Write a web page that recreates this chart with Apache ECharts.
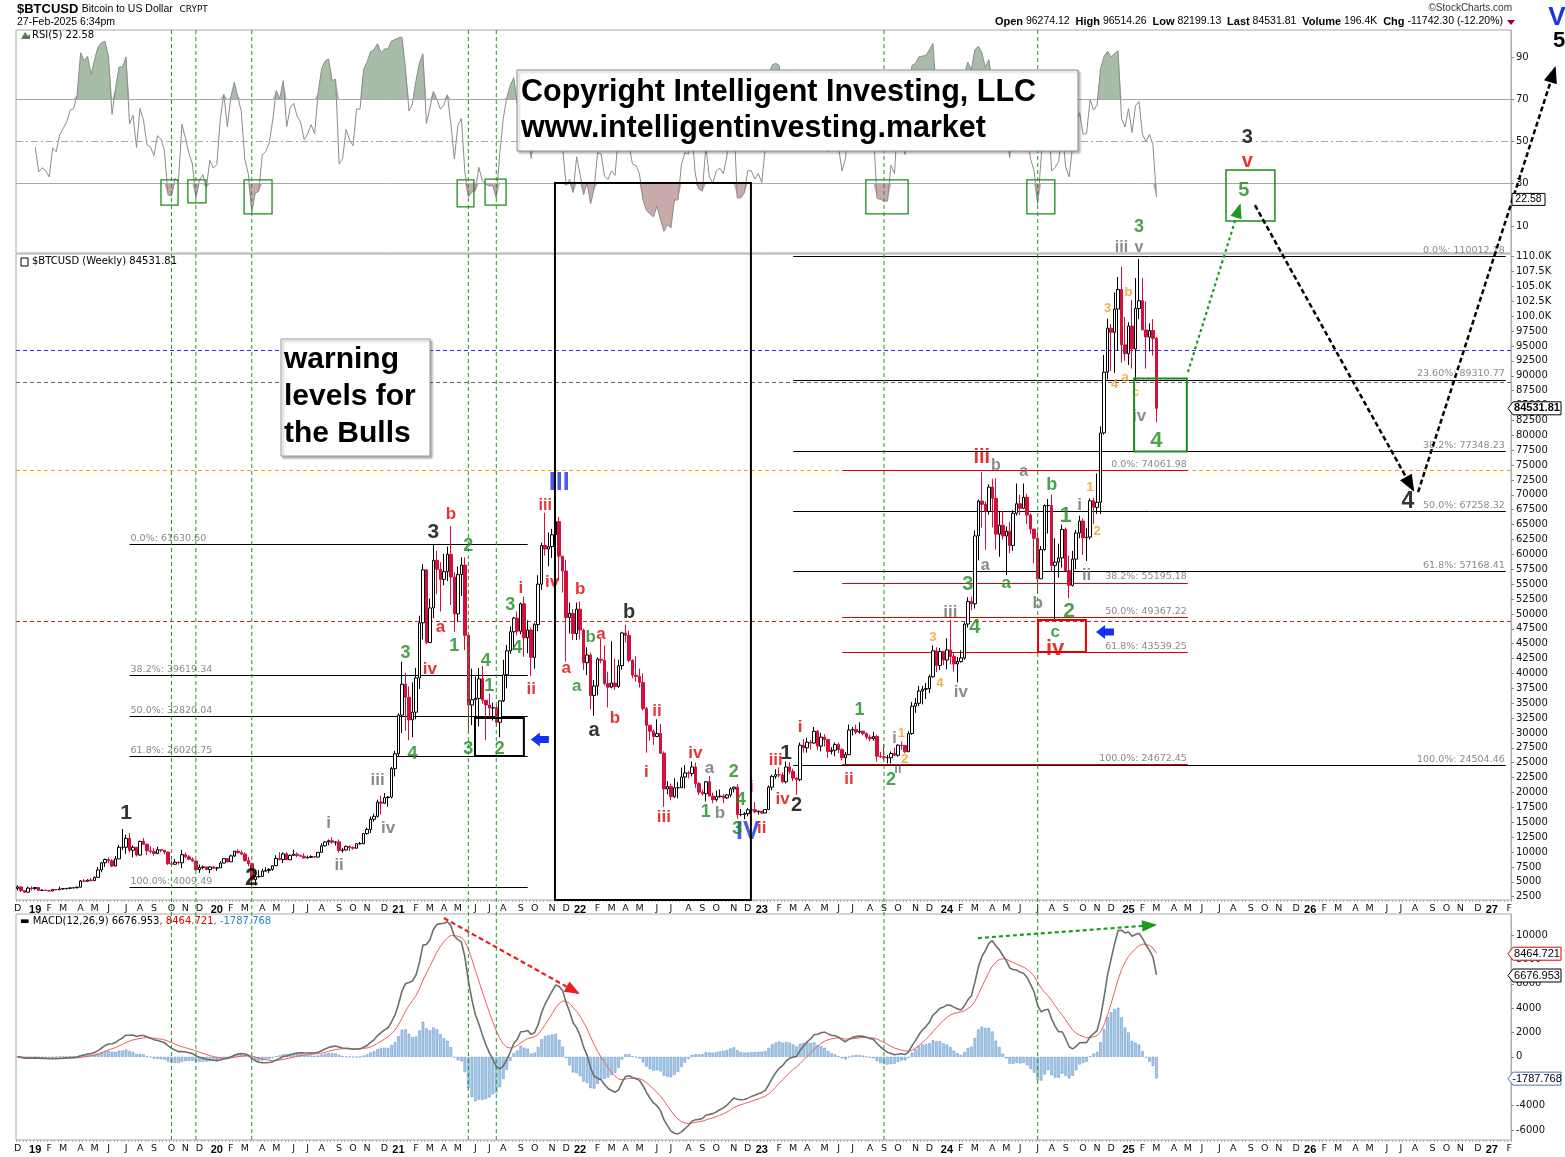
<!DOCTYPE html>
<html><head><meta charset="utf-8"><title>BTCUSD weekly</title>
<script src="https://cdn.jsdelivr.net/npm/echarts@6/dist/echarts.min.js"></script>
<style>html,body{margin:0;padding:0;background:#fff;}#chart{width:1565px;height:1157px;}</style>
</head><body><div id="chart"></div>
<script>
// ---------------- DATA (weekly, weeks starting Monday 2018-11-26) ----------------
const startWeek = '2018-11-26';
const totalWeeks = 428;              // axis runs into 2027 for the projection
const firstOpen = 3900;
const closes = [
  4150,3550,3250,3950,3850,4050,
  3550,3600,3550,3450, 3700,3660,3800,3850, 3900,3990,4000,4100, 5150,5100,5300,5200,5750, 7000,8200,8750,8550, 7650,8850,10800,10800, 12300,10300,10800,9500,11800, 11300,10200,10100,9750, 10400,10300,10000,8050,7950, 8300,8200,9550,9200, 8800,8500,7050,7400, 7500,7050,7500,7300,7350,
  8150,8900,8350,9350, 10150,9900,9650,8550, 8050,5350,5850,5900,6800, 6900,7100,7700,8900, 8750,9700,8700,9450, 9650,9400,9300,9000,9100, 9250,9150,9950,11050, 11700,11900,11650,11700,10250, 10350,10950,10750,10650, 11400,11400,13100,13800, 15500,16000,18400,18200,19150, 19250,24000,26500,33000,
  38200,36000,32200,33500, 39250,48500,57400,45200, 51000,59000,57500,55800,57100, 60000,56200,50000,56600, 58200,46400,34700,35600,35800, 39100,35500,34700,34200, 34250,31800,35400,39800, 43800,47000,49300,47100,51700, 46000,47300,42700,48200, 55000,61500,60900,61300, 63300,65500,59700,57200,49400, 50100,46700,50800,47300,
  41800,43100,36300,37900,42400, 42200,38300,37700,38400, 37800,41300,46800,46400, 42200,39700,39500,38500, 34100,31300,30300,29400,29900, 26600,20600,21000,19300, 20800,20800,22600,23300, 23200,24300,21500,20050,19800, 21800,19400,18800,19300, 19400,19100,19600,20600,20900, 16300,16300,16450,17100, 17100,16750,16850,16550,
  17150,20900,22700,23000,22950, 21800,24300,23550,22400, 22150,27950,27500,28450, 28300,30300,27800,29300, 28900,26900,27100,28050,27200, 25850,26350,30500,30600, 30150,30300,29900,29300,29050, 29400,26100,26000,25850, 25850,26550,26250,27950, 27900,26850,29900,34500,35000, 37050,37350,37450,39450, 43800,41350,43700,42250,
  43950,42850,41600,42000,42600, 48300,52100,51700,63100, 68950,68400,67200,71300, 69400,63400,64900,63100,63900, 61500,66900,68500,67750, 69600,66600,64250,62700, 55900,60800,68200,68200,58150, 58700,59400,64200,57300, 54800,59200,63600,65600,62800, 62900,69000,67900,68750, 80400,90600,98000,97300, 101200,104500,95200,93700,98350,
  94500,101300,102600,97700, 96500,97600,96274.12,84531.81
];
const highs = [
  4400,4200,3600,4200,4250,4100,
  4100,3750,3650,3550, 3720,3720,4200,3900, 3950,4000,4100,4150, 5300,5450,5400,5650,5900, 7500,8300,8900,9100, 8800,9350,11200,13880, 12900,13200,11100,10650,11900, 12350,11450,10950,10650, 10900,10450,10350,10050,8550, 8850,8400,10350,9950, 9500,9100,8500,7900, 7750,7550,7600,7650,7500,
  8450,9000,8950,9550, 10150,10500,10250,9950, 9200,8200,6900,6950,7200, 7450,7300,7800,9450, 10000,9950,9950,9600, 10400,9950,9600,9800,9400, 9450,9300,10000,11450, 11800,12100,12450,11800,12100, 10700,11100,11100,10950, 11500,11700,13200,14100, 15950,16450,18800,19450,19900, 19400,24300,27000,33300,
  41950,40100,37800,38500, 40950,49700,58350,57500, 52600,61700,60600,58700,60100, 61300,64800,57000,58000, 59500,59500,46600,40800,39500, 40900,41300,35500,36600, 35100,34600,34500,42300, 44800,47900,49500,50400,51900, 52900,48900,47700,48500, 56500,62000,67000,63700, 64300,69000,66300,59600,59100, 51900,50800,51900,52100,
  47500,44400,43500,38900,42700, 45800,44700,40300,45400, 42500,42300,47000,48200, 47200,42400,42900,40800, 40000,34400,31300,30600,32300, 31500,26900,21900,21500, 22400,21800,24200,24600, 23600,25200,25000,21800,20500, 21900,22800,20000,20300, 20500,19700,19700,20900,21000, 21400,17200,16700,17400, 17400,18400,17000,16950,
  17200,21200,23000,23900,24200, 23400,25200,25100,24000, 22600,28400,29000,29200, 28800,31000,30500,30000, 29800,29000,27600,28400,28400, 27400,26800,31400,31000, 31400,31800,30400,30100,29700, 30200,29700,26800,28100, 26300,26900,27500,28100, 28600,28000,30300,35200,35900, 37900,37900,38400,39800, 44700,44400,44300,43800,
  45900,49000,43600,42800,43900, 48600,52800,52900,64000, 69200,73800,68900,71800, 72700,72800,67200,67300,64700, 65500,67400,71900,70000, 71900,70200,66900,64300, 63800,61400,68400,69300,70000, 62700,61800,65000,64500, 59800,60600,64100,66500,66000, 64400,69400,69500,73600, 81500,93500,99600,98700, 104000,106600,108300,99900,99000,
  102700,106400,109600,106400, 102500,98800,99500,96514.26
];
const lows = [
  3550,3300,3150,3230,3550,3650,
  3500,3500,3450,3380, 3400,3580,3650,3700, 3720,3850,3900,3920, 4100,4950,5000,5050,5150, 5650,6600,7500,8100, 7450,7600,8900,10300, 9700,9950,9100,9250,9400, 11200,9500,9800,9400, 9650,9950,9600,7800,7750, 7850,7900,7300,9000, 8650,8400,6850,6500, 7100,7000,6450,7100,6850,
  7350,8100,8250,8350, 9150,9750,9500,8400, 7600,3850,4400,5700,5900, 6700,6450,6850,7650, 8600,8150,8650,8650, 9350,9150,9200,8900,8950, 9050,9050,9100,9950, 10950,11150,11400,11100,9900, 9900,10250,10150,10400, 10550,11250,11350,12900, 13200,15100,15800,16300,18100, 17600,19000,22700,26000,
  30000,30400,28800,29300, 32300,37400,45700,44900, 45100,49300,53300,50400,54800, 55500,51500,47000,48800, 53000,43900,30000,31300,31200, 31100,34900,28800,32700, 32100,31100,29300,35200, 37500,43300,43900,46400,46600, 42800,43400,39600,40800, 47100,54000,59800,58000, 59400,62800,55600,53600,42000, 46700,45600,45600,45700,
  40600,39700,34000,32900,36300, 41700,38000,34300,37500, 37200,37600,40600,45200, 41900,39200,38600,37600, 33800,26700,28700,28000,29300, 26500,17600,19700,18700, 19100,19000,20800,20700, 22400,22700,20800,19600,19500, 18500,19400,18200,18500, 19100,18200,18900,19200,20000, 15600,16000,15500,16000, 16700,16500,16300,16400,
  16500,17100,20400,22300,22500, 21600,21500,23100,21900, 19600,21900,26700,26700, 27200,28200,27100,26900, 27700,25800,26400,26100,26600, 25400,24800,26300,29600, 29800,29900,29600,28900,28600, 28700,25200,25800,25400, 24900,24900,26200,26000, 27200,26600,26800,29700,33400, 34500,34800,35700,36700, 39300,40200,40600,41400,
  40700,41500,40300,38500,41800, 42300,47700,50600,50900, 59000,64500,60800,66700, 64500,60800,59600,62500,56500, 60200,60600,66500,66600, 67600,65100,63400,58500, 53500,55900,60600,63500,57100, 49100,56100,57800,57200, 52600,54600,57500,62700,59900, 58900,62500,65100,66800, 66800,80100,89400,90800, 90500,94200,92200,92500,91800,
  91200,89300,99500,97800, 91200,94100,93400,82199.13
];

// tick labels
const rsiTicks = [10, 30, 50, 70, 90];
const priceTicks = [2500,5000,7500,10000,12500,15000,17500,20000,22500,25000,27500,30000,32500,35000,37500,40000,42500,45000,47500,50000,52500,55000,57500,60000,62500,65000,67500,70000,72500,75000,77500,80000,82500,85000,87500,90000,92500,95000,97500,100000,102500,105000,107500,110000];
const macdTicks = [-6000, -4000, -2000, 0, 2000, 4000, 6000, 8000, 10000];
const monthLetters = ['J','F','M','A','M','J','J','A','S','O','N','D'];

// last values shown in the header / axis flags
const lastText = {price:'84531.81', rsi:'22.58', macd:'6676.953', signal:'8464.721', hist:'-1787.768'};

// Elliott-wave labels: [week index, price, text, colour, size]
const waveLabels = [
  [31,16600,'1','K',21],[67,5640,'2','K',24],[119,63770,'3','K',21],[175,50320,'b','K',20],[165,30500,'a','K',20],
  [220,26640,'1','K',21],[223,17740,'2','K',20],[352,130100,'3','K',20],[398,68800,'4','K',23],
  [155,71980,'III','B',25],[209,13370,'IV','B',25],
  [124,66780,'b','R',17],[121,47800,'a','R',17],[118,40750,'iv','R',17],[144,54350,'i','R',17],[147,37390,'ii','R',17],
  [151,68120,'iii','R',16],[153,55360,'iv','R',17],[161,54180,'b','R',17],[157,40910,'a','R',17],[167,46620,'a','R',17],
  [171,32520,'b','R',17],[183,33690,'ii','R',17],[180,23450,'i','R',17],[185,15890,'iii','R',17],[194,26640,'iv','R',17],
  [213,14040,'ii','R',17],[210,20930,'i','R',17],[217,25460,'iii','R',17],[219,18910,'iv','R',17],[224,31000,'i','R',17],
  [238,22270,'ii','R',17],[276,76350,'iii','R',20],[297,44110,'iv','R',22],[352,126070,'v','R',20],
  [111,43430,'3','G',18],[113,26470,'4','G',18],[129,61420,'2','G',18],[125,44610,'1','G',18],[134,42090,'4','G',18],
  [135,37890,'1','G',18],[129,27310,'3','G',18],[138,27310,'2','G',18],[141,51500,'3','G',18],[143,44270,'4','G',18],
  [164,46120,'b','G',17],[160,37890,'a','G',17],[205,23450,'2','G',18],[207,18740,'4','G',18],[197,16730,'1','G',18],
  [206,13870,'3','G',18],[241,33860,'1','G',18],[250,22100,'2','G',18],[272,55020,'3','G',20],[274,47800,'4','G',20],
  [283,55190,'a','G',17],[296,71650,'b','G',18],[300,66440,'1','G',22],[301,50490,'2','G',21],[297,46960,'c','G',17],
  [326,79040,'4','G',22],[321,115000,'3','G',18],[351,121200,'5','G',20],
  [89,14880,'i','Y',17],[92,7820,'ii','Y',17],[103,22100,'iii','Y',17],[106,14040,'iv','Y',17],[198,24120,'a','Y',17],
  [201,16560,'b','Y',17],[251,28990,'i','Y',16],[252,23950,'ii','Y',13],[267,50320,'iii','Y',17],[270,36880,'iv','Y',17],
  [280,74840,'b','Y',16],[288,73830,'a','Y',16],[277,58050,'a','Y',16],[292,51830,'b','Y',17],[306,56540,'ii','Y',17],
  [304,68290,'i','Y',17],[321,83240,'iv','Y',17],[316,111460,'iii','Y',16],[321,111460,'v','Y',16],
  [253,30000,'1','O',13],[254,25630,'2','O',13],[262,46120,'3','O',13],[264,38390,'4','O',13],[307,71310,'1','O',13],
  [309,63920,'2','O',13],[312,101380,'3','O',13],[318,104060,'b','O',13],[314,88610,'4','O',13],[317,89790,'a','O',13],[320,87270,'c','O',13]
];
const colorOf = {K:'#000000', B:'#1a36e0', R:'#e30000', G:'#1c8c1c', Y:'#6e6e6e', O:'#f29a1c'};

// Fibonacci retracement levels
const fibLeft  = [[61630.60,'0.0%: 61630.60'],[39619.34,'38.2%: 39619.34'],[32820.04,'50.0%: 32820.04'],[26020.75,'61.8%: 26020.75'],[4009.49,'100.0%: 4009.49']];
const fibRight = [[110012.18,'0.0%: 110012.18'],[89310.77,'23.60%: 89310.77'],[77348.23,'38.2%: 77348.23'],[67258.32,'50.0%: 67258.32'],[57168.41,'61.8%: 57168.41'],[24504.46,'100.0%: 24504.46']];
const fibMid   = [[74061.98,'0.0%: 74061.98'],[55195.18,'38.2%: 55195.18'],[49367.22,'50.0%: 49367.22'],[43539.25,'61.8%: 43539.25'],[24672.45,'100.0%: 24672.45']];
const fibLeftSpan = [32, 146], fibRightSpan = [222, 426], fibMidSpan = [236, 335];
// full-width warning levels
const warnLevels = [[94300,'#2b2bff'],[88900,'#666666'],[74062,'#ff9a00'],[48850,'#dd2222']];
// vertical dashed marker weeks
const markerWeeks = [44, 51, 67, 129, 137, 248, 292];
// RSI oversold boxes: [week from, week to, rsi top, rsi bottom]
const rsiBoxes = [[41.0,45.9,31.8,19.9],[48.7,53.9,31.8,20.9],[64.8,72.8,31.8,15.7],[125.8,130.6,31.8,19.0],[133.8,139.8,32.2,19.9],[242.8,254.9,31.8,15.7],[288.9,296.9,31.8,15.7]];
// price boxes: [week from, week to, price top, price bottom, colour, width]
const priceBoxes = [[130.9,144.9,32520,26140,'#000000',2],[319.6,334.7,89530,77270,'#1c8c1c',2],[292.1,305.8,48990,43610,'#e30000',2],[345.9,359.9,124570,116000,'#1c8c1c',1.5]];
const bigBox = [153.8, 209.9, 30.4];   // week from, week to, RSI level of top edge
const blueArrows = [[146.9,28900],[308.7,46960]];
const projGreen = [[335.0,90610],[349.9,118650]];
const projBlack1 = [[354.2,118650],[399.5,70800]];
const projBlack2 = [[400.9,70470],[440.1,141700]];
const macdArrowRed = [[122.0,11390],[160.4,5240]];
const macdArrowGreen = [[274.9,9750],[325.6,10820]];

// ---------------- BUILD ----------------
const FONT = "'DejaVu Sans', sans-serif";
const AFONT = "'Liberation Sans', Arial, sans-serif";
const weeks = [], monthLabel = [];
for (let i = 0; i < totalWeeks; i++) {
  const d = new Date(Date.parse(startWeek + 'T00:00:00Z') + i * 7 * 86400000);
  const sun = new Date(d.getTime() + 6 * 86400000);
  weeks.push(d.toISOString().slice(0, 10));
  if (sun.getUTCDate() <= 7) {
    const m = sun.getUTCMonth();
    monthLabel.push(m === 0 ? '{y|' + String(sun.getUTCFullYear()).slice(2) + '}' : '{m|' + monthLetters[m] + '}');
  } else monthLabel.push('');
}
const candles = closes.map((c, i) => {
  const o = i ? closes[i - 1] : firstOpen;
  return [o, c, Math.min(lows[i], o, c), Math.max(highs[i], o, c)];
});
function calcRSI(c, n) {
  const out = new Array(c.length).fill(null); let ag = 0, al = 0;
  for (let i = 1; i < c.length; i++) {
    const ch = c[i] - c[i - 1], g = ch > 0 ? ch : 0, l = ch < 0 ? -ch : 0;
    if (i <= n) { ag += g; al += l; if (i === n) { ag /= n; al /= n; out[i] = 100 - 100 / (1 + ag / al); } }
    else { ag = (ag * (n - 1) + g) / n; al = (al * (n - 1) + l) / n; out[i] = al === 0 ? 100 : 100 - 100 / (1 + ag / al); }
  }
  return out;
}
function ema(a, n) { const k = 2 / (n + 1); const out = []; let e = a[0]; a.forEach((v, i) => { e = i ? v * k + e * (1 - k) : v; out.push(e); }); return out; }
const rsi = calcRSI(closes, 5);
const e12 = ema(closes, 12), e26 = ema(closes, 26);
const macd = e12.map((v, i) => v - e26[i]);
const signal = ema(macd, 9);
const hist = macd.map((v, i) => v - signal[i]);
const rsiHigh = rsi.map(v => v == null ? null : Math.max(v, 70));
const rsiLow = rsi.map(v => v == null ? null : Math.min(v, 30));

const L = 16, R = 54;
const grids = [
  {left: L, right: R, top: 30, height: 223},
  {left: L, right: R, top: 254, height: 646},
  {left: L, right: R, top: 914, height: 226}
];
const labelInterval = (idx) => monthLabel[idx] !== '';
const xRich = {m: {fontFamily: FONT, fontSize: 9.5, color: '#111'}, y: {fontFamily: AFONT, fontSize: 11, fontWeight: 'bold', color: '#000'}};
function xAxis(gi, showLabels) {
  return {type: 'category', gridIndex: gi, data: weeks, boundaryGap: true,
    axisLine: {show: false, onZero: false}, splitLine: {show: false},
    axisTick: {show: showLabels, interval: 0, length: 2, lineStyle: {color: '#b0b0b0'}},
    axisLabel: {show: showLabels, interval: labelInterval, margin: 4, formatter: (v, i) => monthLabel[i], rich: xRich}};
}
function yAxis(gi, min, max, ticks, fmt) {
  return {type: 'value', gridIndex: gi, position: 'right', min, max, scale: true,
    splitLine: {show: false}, axisLine: {show: true, onZero: false, lineStyle: {color: '#b0b0b0'}},
    axisTick: {show: true, customValues: ticks, length: 3, lineStyle: {color: '#888'}},
    axisLabel: {customValues: ticks, formatter: fmt, fontFamily: FONT, fontSize: 10, color: '#111', margin: 5}};
}
const fmtPrice = v => v >= 100000 ? (v / 1000).toFixed(1) + 'K' : String(v);

function fibSegs(list, span, color, pos) {
  return list.map(([v, t]) => [
    {coord: [span[0], v], lineStyle: {color, width: 1, type: 'solid'},
     label: {show: true, formatter: t, position: pos, color: '#8a8a8a', fontFamily: FONT, fontSize: 9.5, distance: 1}},
    {coord: [span[1], v]}
  ]);
}
const markLineData = [].concat(
  warnLevels.map(([v, c]) => ({yAxis: v, lineStyle: {color: c, type: [4, 3], width: 1}, label: {show: false}})),
  fibSegs(fibLeft, fibLeftSpan, '#000', 'insideStartTop'),
  fibSegs(fibRight, fibRightSpan, '#000', 'insideEndTop'),
  fibSegs(fibMid, fibMidSpan, '#e00000', 'insideEndTop')
);

const option = {
  animation: false,
  backgroundColor: '#ffffff',
  grid: grids.map(g => Object.assign({show: true, borderColor: '#a8a8a8', borderWidth: 1, backgroundColor: 'transparent'}, g)),
  xAxis: [xAxis(0, false), xAxis(1, true), xAxis(2, true)],
  yAxis: [
    yAxis(0, -2.8, 102.8, rsiTicks, v => String(v)),
    yAxis(1, 1946, 110454, priceTicks, fmtPrice),
    yAxis(2, -6820, 11723, macdTicks, v => String(v))
  ],
  series: [
    {type: 'line', xAxisIndex: 0, yAxisIndex: 0, data: rsiHigh, symbol: 'none', lineStyle: {width: 0},
     areaStyle: {origin: 70, color: '#a7bda7', opacity: 1}, silent: true, z: 1},
    {type: 'line', xAxisIndex: 0, yAxisIndex: 0, data: rsiLow, symbol: 'none', lineStyle: {width: 0},
     areaStyle: {origin: 30, color: '#c9a9aa', opacity: 1}, silent: true, z: 1},
    {type: 'line', xAxisIndex: 0, yAxisIndex: 0, data: rsi, symbol: 'none', lineStyle: {color: '#8c8c8c', width: 1}, silent: true, z: 3,
     markLine: {symbol: ['none', 'none'], silent: true, label: {show: false},
       data: [{yAxis: 70, lineStyle: {color: '#a8a8a8', type: 'solid', width: 1}},
              {yAxis: 50, lineStyle: {color: '#a8a8a8', type: [7, 3, 2, 3], width: 1}},
              {yAxis: 30, lineStyle: {color: '#a8a8a8', type: 'solid', width: 1}}]}},
    {type: 'candlestick', xAxisIndex: 1, yAxisIndex: 1, data: candles, barWidth: 3, z: 4,
     itemStyle: {color: '#ffffff', color0: '#d3103c', borderColor: '#000000', borderColor0: '#d3103c', borderWidth: 1},
     markLine: {symbol: ['none', 'none'], silent: true, z: 2, data: markLineData}},
    {type: 'scatter', xAxisIndex: 1, yAxisIndex: 1, clip: false, silent: true, symbolSize: 1, z: 10,
     itemStyle: {color: 'rgba(0,0,0,0)'},
     data: waveLabels.map(([k, p, t, c, s]) => ({value: [k, p],
       label: {show: true, position: 'inside', formatter: t, color: colorOf[c], fontSize: s, fontWeight: 'bold', fontFamily: AFONT}}))},
    {type: 'bar', xAxisIndex: 2, yAxisIndex: 2, data: hist, barWidth: 2.6, silent: true,
     itemStyle: {color: '#a9cbe8', borderColor: '#5b8fc6', borderWidth: 0.5}},
    {type: 'line', xAxisIndex: 2, yAxisIndex: 2, data: signal, symbol: 'none', lineStyle: {color: '#e8605a', width: 1}, silent: true},
    {type: 'line', xAxisIndex: 2, yAxisIndex: 2, data: macd, symbol: 'none', lineStyle: {color: '#6e6e6e', width: 1.6}, silent: true}
  ]
};

const chart = echarts.init(document.getElementById('chart'), null, {renderer: 'canvas'});
chart.setOption(option);

// ---------------- overlays positioned through the chart's own scales ----------------
const x0 = chart.convertToPixel({xAxisIndex: 1}, 0), x100 = chart.convertToPixel({xAxisIndex: 1}, 100);
const px = k => x0 + (x100 - x0) * k / 100;
const py = v => chart.convertToPixel({yAxisIndex: 1}, v);
const ry = v => chart.convertToPixel({yAxisIndex: 0}, v);
const my = v => chart.convertToPixel({yAxisIndex: 2}, v);
const G = [];
const txt = (x, y, text, font, fill, align, valign, extra) => G.push(Object.assign({type: 'text', x, y, z: 60,
  style: {text, font, fill, textAlign: align || 'left', align: align || 'left', textVerticalAlign: valign || 'top', verticalAlign: valign || 'top'}}, extra || {}));
const rect = (x1, y1, x2, y2, stroke, lw, fill, z) => G.push({type: 'rect', z: z || 55, shape: {x: x1, y: y1, width: x2 - x1, height: y2 - y1}, style: {fill: fill || 'none', stroke, lineWidth: lw}});
function arrowLine(p1, p2, color, lw, dash, head) {
  G.push({type: 'line', z: 58, shape: {x1: p1[0], y1: p1[1], x2: p2[0], y2: p2[1]}, style: {stroke: color, lineWidth: lw, lineDash: dash}});
  const dx = p2[0] - p1[0], dy = p2[1] - p1[1], len = Math.hypot(dx, dy), ux = dx / len, uy = dy / len;
  const bx = p2[0] - ux * head, by = p2[1] - uy * head, w = head * 0.45;
  G.push({type: 'polygon', z: 58, shape: {points: [[p2[0] + ux * 2, p2[1] + uy * 2], [bx - uy * w, by + ux * w], [bx + uy * w, by - ux * w]]}, style: {fill: color}});
}
const priceTop = 254, priceBottom = 900, panelTop = 30, panelBottom = 1140;

// vertical dashed marker lines
markerWeeks.forEach(k => G.push({type: 'line', z: 5, shape: {x1: px(k), y1: panelTop, x2: px(k), y2: panelBottom},
  style: {stroke: '#1c9c1c', lineWidth: 1, lineDash: [4, 3]}}));
// RSI boxes
rsiBoxes.forEach(([a, b, t, u]) => rect(px(a), ry(t), px(b), ry(u), '#1c8c1c', 1.3));
// price boxes
priceBoxes.forEach(([a, b, t, u, c, w]) => rect(px(a), py(t), px(b), py(u), c, w));
rect(px(bigBox[0]), ry(bigBox[2]), px(bigBox[1]), priceBottom, '#000', 2);
// blue arrows
blueArrows.forEach(([k, p]) => { const x = px(k), y = py(p);
  G.push({type: 'polygon', z: 58, shape: {points: [[x, y], [x + 9, y - 7], [x + 9, y - 3.5], [x + 18, y - 3.5], [x + 18, y + 3.5], [x + 9, y + 3.5], [x + 9, y + 7]]}, style: {fill: '#1430f0'}}); });
// projections
const P = ([k, v]) => [px(k), py(v)];
arrowLine(P(projGreen[0]), P(projGreen[1]), '#1c9c1c', 2.2, [3, 3], 13);
arrowLine(P(projBlack1[0]), P(projBlack1[1]), '#000', 2.5, [5, 3], 15);
arrowLine(P(projBlack2[0]), P(projBlack2[1]), '#000', 2.5, [5, 3], 15);
const M = ([k, v]) => [px(k), my(v)];
arrowLine(M(macdArrowRed[0]), M(macdArrowRed[1]), '#e42020', 2.2, [5, 3], 13);
arrowLine(M(macdArrowGreen[0]), M(macdArrowGreen[1]), '#1c9c1c', 2.2, [4, 3], 13);

// text boxes
G.push({type: 'rect', z: 50, shape: {x: 517, y: 70, width: 561, height: 81}, style: {fill: '#fff', stroke: '#8a8a8a', lineWidth: 1, shadowColor: 'rgba(0,0,0,0.25)', shadowOffsetX: 2, shadowOffsetY: 2, shadowBlur: 2}});
txt(521, 93, 'Copyright Intelligent Investing, LLC', 'bold 30.5px ' + AFONT, '#000', 'left', 'middle');
txt(521, 129, 'www.intelligentinvesting.market', 'bold 30.5px ' + AFONT, '#000', 'left', 'middle');
G.push({type: 'rect', z: 50, shape: {x: 281, y: 339, width: 149, height: 117}, style: {fill: '#fff', stroke: '#9a9a9a', lineWidth: 1, shadowColor: 'rgba(0,0,0,0.3)', shadowOffsetX: 2, shadowOffsetY: 2, shadowBlur: 2}});
txt(284, 360, 'warning', 'bold 30px ' + AFONT, '#000', 'left', 'middle');
txt(284, 397, 'levels for', 'bold 30px ' + AFONT, '#000', 'left', 'middle');
txt(284, 434, 'the Bulls', 'bold 30px ' + AFONT, '#000', 'left', 'middle');
// outside-of-axis wave labels
txt(1557, 18, 'V', 'bold 26px ' + AFONT, '#1a36e0', 'center', 'middle');
txt(1559, 41, '5', 'bold 22px ' + AFONT, '#000', 'center', 'middle');

// header
G.push({type: 'text', x: 17, y: 3, z: 60, style: {text: '{a|$BTCUSD} {b|Bitcoin to US Dollar}  {c|CRYPT}', textVerticalAlign: 'top', verticalAlign: 'top',
  rich: {a: {font: 'bold 13px ' + AFONT, fill: '#000'}, b: {font: '10.5px ' + AFONT, fill: '#000'}, c: {font: '9px ' + FONT, fill: '#000'}}}});
txt(17, 17, '27-Feb-2025 6:34pm', '10.5px ' + AFONT, '#000');
txt(1512, 3, '\u00A9StockCharts.com', '10px ' + AFONT, '#333', 'right');
G.push({type: 'text', x: 1503, y: 16, z: 60, style: {text: '{b|Open} 96274.12  {b|High} 96514.26  {b|Low} 82199.13  {b|Last} 84531.81  {b|Volume} 196.4K  {b|Chg} -11742.30 (-12.20%)',
  font: '10.5px ' + AFONT, fill: '#000', textAlign: 'right', align: 'right', textVerticalAlign: 'top', verticalAlign: 'top',
  rich: {b: {font: 'bold 11px ' + AFONT, fill: '#000'}}}});
G.push({type: 'polygon', z: 60, shape: {points: [[1507, 20], [1515, 20], [1511, 25]]}, style: {fill: '#a00020'}});
// panel legends
txt(32, 30, 'RSI(5) ' + lastText.rsi, '10px ' + FONT, '#000');
G.push({type: 'polygon', z: 60, shape: {points: [[21, 39], [25, 32], [28, 36], [30, 34], [30, 39]]}, style: {fill: '#5a7a5a'}});
txt(32, 256, '$BTCUSD (Weekly) ' + lastText.price, '10px ' + FONT, '#000');
G.push({type: 'rect', z: 60, shape: {x: 21, y: 258, width: 7, height: 8}, style: {fill: 'none', stroke: '#000', lineWidth: 1}});
G.push({type: 'text', x: 20, y: 916, z: 60, style: {text: '{k|\u25AC MACD(12,26,9) ' + lastText.macd + '}{r|, ' + lastText.signal + '}{c|, ' + lastText.hist + '}',
  textVerticalAlign: 'top', verticalAlign: 'top',
  rich: {k: {font: '10px ' + FONT, fill: '#000'}, r: {font: '10px ' + FONT, fill: '#e00000'}, c: {font: '10px ' + FONT, fill: '#2a86c8'}}}});
// value flags on right axes
function flag(y, text, stroke, bold, w) {
  const x = 1509;
  G.push({type: 'polygon', z: 62, shape: {points: [[x - 1, y], [x + 4, y - 6.5], [x + w, y - 6.5], [x + w, y + 6.5], [x + 4, y + 6.5]]}, style: {fill: '#fff', stroke, lineWidth: 1}});
  txt(x + 4 + (w - 4) / 2, y, text, (bold ? 'bold ' : '') + '11px ' + AFONT, '#000', 'center', 'middle', {z: 63});
}
flag(py(84531.81), lastText.price, '#000', true, 52);
flag(my(8464.721), lastText.signal, '#e00000', false, 52);
flag(my(6676.953), lastText.macd, '#000', false, 52);
flag(my(-1787.768), lastText.hist, '#4a78b0', false, 52);
G.push({type: 'rect', z: 62, shape: {x: 1512, y: ry(22.58) - 6, width: 33, height: 12}, style: {fill: '#fff', stroke: '#000', lineWidth: 1}});
txt(1528.5, ry(22.58), lastText.rsi, '10.5px ' + AFONT, '#000', 'center', 'middle', {z: 63});

chart.setOption({graphic: G});
</script></body></html>
